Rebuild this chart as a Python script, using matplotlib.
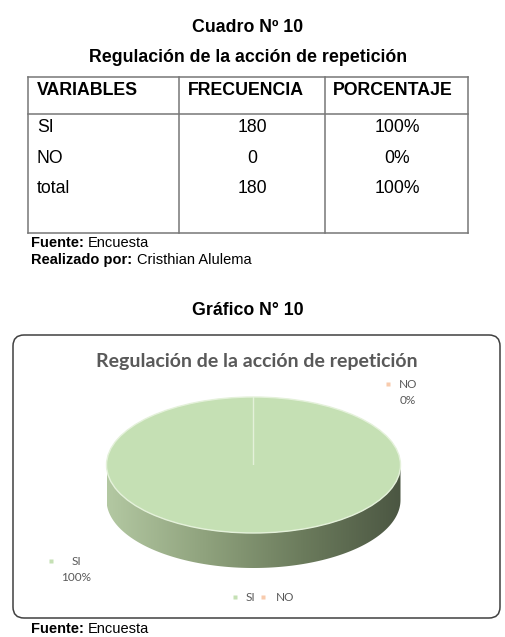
import numpy as np
import matplotlib
matplotlib.use("Agg")
import matplotlib.pyplot as plt
from matplotlib.patches import FancyBboxPatch, Polygon
from matplotlib.colors import LinearSegmentedColormap

# datos de la tabla
variables = ["SI", "NO", "total"]
frecuencia = [180, 0, 180]
porcentaje = ["100%", "0%", "100%"]
encabezados = ["VARIABLES", "FRECUENCIA", "PORCENTAJE"]

# datos del grafico
etiquetas = ["SI", "NO"]
valores = [180, 0]
colores = ["#c5e0b4", "#f8cbad"]

W, H = 505, 637
fig = plt.figure(figsize=(W / 100, H / 100), dpi=100)
bg = fig.add_axes([0, 0, 1, 1])
bg.set_xlim(0, W)
bg.set_ylim(H, 0)
bg.axis("off")

arial = "Liberation Sans"
cal = "Lato"
gris = "#595959"

bg.text(248, 32, "Cuadro Nº 10", fontfamily=arial, fontweight="bold", fontsize=12.8, ha="center", va="baseline")
bg.text(248, 62, "Regulación de la acción de repetición", fontfamily=arial, fontweight="bold", fontsize=12.8, ha="center", va="baseline")

# tabla
x0, x1, x2, x3 = 28, 179, 325, 468
y0, yh, y3 = 77, 114, 233
lc = "#777777"
for x in (x0, x1, x2, x3):
    bg.plot([x, x], [y0, y3], color=lc, lw=1.1)
for y in (y0, yh, y3):
    bg.plot([x0, x3], [y, y], color=lc, lw=1.1)

hx = [37, 188, 333]
for x, t in zip(hx, encabezados):
    bg.text(x, 95, t, fontfamily=arial, fontweight="bold", fontsize=12.8, va="baseline")

filas_y = [132, 163, 193]
for y, v, f, p in zip(filas_y, variables, frecuencia, porcentaje):
    bg.text(37, y, v, fontfamily=arial, fontsize=12.7, va="baseline")
    bg.text(252, y, str(f), fontfamily=arial, fontsize=12.7, va="baseline", ha="center")
    bg.text(397, y, p, fontfamily=arial, fontsize=12.7, va="baseline", ha="center")

def fuente(y, a, b, xb):
    bg.text(31, y, a, fontfamily=arial, fontweight="bold", fontsize=10.5, va="baseline")
    bg.text(xb, y, b, fontfamily=arial, fontsize=10.5, va="baseline")

fuente(247, "Fuente:", "Encuesta", 88)
fuente(264, "Realizado por:", "Cristhian Alulema", 137)

bg.text(248, 315, "Gráfico N° 10", fontfamily=arial, fontweight="bold", fontsize=12.8, ha="center", va="baseline")

# marco del grafico
marco = FancyBboxPatch((13, 335), 487, 283, boxstyle="round,pad=0,rounding_size=11",
                       fc="white", ec="#404040", lw=1.1, zorder=0)
bg.add_patch(marco)

bg.text(257, 367, "Regulación de la acción de repetición", fontfamily=cal, fontweight="bold",
        fontsize=14, color=gris, ha="center", va="baseline")

# etiquetas de datos
pct = [v / sum(valores) * 100 for v in valores]
lab_pos = [(76, 565, 51), (408, 388, 388)]
for (lx, ly, mx), lab, p, c in zip(lab_pos, etiquetas, pct, colores):
    bg.text(lx, ly, lab, fontfamily=cal, fontsize=8.5, color=gris, ha="center", va="baseline")
    bg.text(lx, ly + 16, "%d%%" % round(p), fontfamily=cal, fontsize=8.5, color=gris, ha="center", va="baseline")
    bg.plot(mx, ly - 4, "s", ms=3, color=c, mec="none")

# leyenda
leg = [(235, 246), (263, 276)]
for (mx, tx), lab, c in zip(leg, etiquetas, colores):
    bg.plot(mx, 597, "s", ms=3, color=c, mec="none")
    bg.text(tx, 601, lab, fontfamily=cal, fontsize=8.5, color=gris, va="baseline")

fuente(633, "Fuente:", "Encuesta", 88)

# pastel 3D aplastado
cx, cy, ux, uy = 253.5, 465, 147, 68
d = 35 / uy
mx_, my_ = 0.1, 0.1
left = cx - (1 + mx_) * ux
right = cx + (1 + mx_) * ux
top = cy - (1 + my_) * uy
bot = cy + (1 + d + my_) * uy
ax = fig.add_axes([left / W, 1 - bot / H, (right - left) / W, (bot - top) / H])
ax.axis("off")

# lateral con degradado
t = np.linspace(np.pi, 2 * np.pi, 200)
arc_x, arc_y = np.cos(t), np.sin(t)
pts = np.concatenate([np.column_stack([arc_x, arc_y]),
                      np.column_stack([arc_x[::-1], arc_y[::-1] - d])])
poly = Polygon(pts, closed=True, fc="none", ec="none")
ax.add_patch(poly)
cmap = LinearSegmentedColormap.from_list("lado", ["#b3c8a2", "#8fa27d", "#6b7b5c", "#4b5642"])
grad = np.linspace(0, 1, 256).reshape(1, -1)
im = ax.imshow(grad, cmap=cmap, extent=(-1, 1, -1 - d, 0), aspect="auto", zorder=0.5)
im.set_clip_path(poly)

ax.pie(valores, colors=colores, startangle=90, counterclock=False, radius=1,
       wedgeprops=dict(edgecolor="#e4f1da", linewidth=1.0))
ax.set_aspect("auto")
ax.set_xlim(-1 - mx_, 1 + mx_)
ax.set_ylim(-1 - d - my_, 1 + my_)

fig.savefig("out.png", dpi=100)
